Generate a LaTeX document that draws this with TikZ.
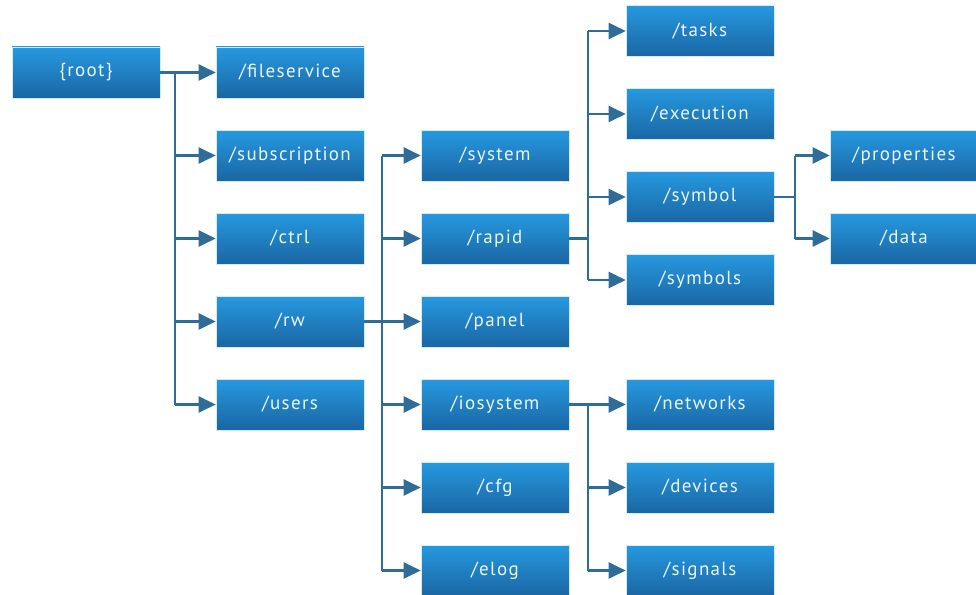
\documentclass[tikz,border=0pt]{standalone}
\usepackage{fontspec}
\setmainfont{PT Sans}[LetterSpace=7]
\usetikzlibrary{arrows.meta}
\definecolor{linkblue}{HTML}{2F6C98}
\definecolor{boxtop}{HTML}{2699E0}
\definecolor{boxbot}{HTML}{1A66A3}
\begin{document}
\begin{tikzpicture}[x=1pt,y=-1pt,
  pathbox/.style={minimum width=148pt, minimum height=51pt, inner sep=0pt,
    top color=boxtop, bottom color=boxbot, draw=white!80!boxtop, line width=0.6pt,
    text=white!90!boxtop, font=\fontsize{19}{22}\selectfont},
  link/.style={draw=linkblue, line width=2.1pt},
  arr/.style={link, -{Triangle[length=17pt,width=16pt]}}]
\useasboundingbox (0,0) rectangle (976,594);

% level 0
\node[pathbox] (root) at (86,72.5) {\{root\}};
% level 1
\node[pathbox] (fileservice)  at (290,72.5)  {/fileservice};
\node[pathbox] (subscription) at (290,155.5) {/subscription};
\node[pathbox] (ctrl)         at (290,238.5) {/ctrl};
\node[pathbox] (rw)           at (290,321.5) {/rw};
\node[pathbox] (users)        at (290,404.5) {/users};
% level 2
\node[pathbox] (system)   at (495,155.5) {/system};
\node[pathbox] (rapid)    at (495,238.5) {/rapid};
\node[pathbox] (panel)    at (495,321.5) {/panel};
\node[pathbox] (iosystem) at (495,404.5) {/iosystem};
\node[pathbox] (cfg)      at (495,487.5) {/cfg};
\node[pathbox] (elog)     at (495,570.5) {/elog};
% level 3
\node[pathbox] (tasks)     at (700,31)    {/tasks};
\node[pathbox] (execution) at (700,114)   {/execution};
\node[pathbox] (symbol)    at (700,197)   {/symbol};
\node[pathbox] (symbols)   at (700,280)   {/symbols};
\node[pathbox] (networks)  at (700,404.5) {/networks};
\node[pathbox] (devices)   at (700,487.5) {/devices};
\node[pathbox] (signals)   at (700,570.5) {/signals};
% level 4
\node[pathbox] (properties) at (904,155.5) {/properties};
\node[pathbox] (data)       at (904,238.5) {/data};

% branch points
\coordinate (bRoot)   at (175,72.5);
\coordinate (bRw)     at (382,321.5);
\coordinate (bRapid)  at (588,238.5);
\coordinate (bIo)     at (588,404.5);
\coordinate (bSymbol) at (795,197);

% root
\draw[link] (root.east) -- (bRoot);
\draw[link] (bRoot) -- (bRoot |- users.west);
\foreach \c in {fileservice,subscription,ctrl,rw,users}
  \draw[arr] (bRoot |- \c.west) -- (\c.west);
% rw
\draw[link] (rw.east) -- (bRw);
\draw[link] (bRw |- system.west) -- (bRw |- elog.west);
\foreach \c in {system,rapid,panel,iosystem,cfg,elog}
  \draw[arr] (bRw |- \c.west) -- (\c.west);
% rapid
\draw[link] (rapid.east) -- (bRapid);
\draw[link] (bRapid |- tasks.west) -- (bRapid |- symbols.west);
\foreach \c in {tasks,execution,symbol,symbols}
  \draw[arr] (bRapid |- \c.west) -- (\c.west);
% iosystem
\draw[link] (iosystem.east) -- (bIo);
\draw[link] (bIo) -- (bIo |- signals.west);
\foreach \c in {networks,devices,signals}
  \draw[arr] (bIo |- \c.west) -- (\c.west);
% symbol
\draw[link] (symbol.east) -- (bSymbol);
\draw[link] (bSymbol |- properties.west) -- (bSymbol |- data.west);
\foreach \c in {properties,data}
  \draw[arr] (bSymbol |- \c.west) -- (\c.west);
\end{tikzpicture}
\end{document}
